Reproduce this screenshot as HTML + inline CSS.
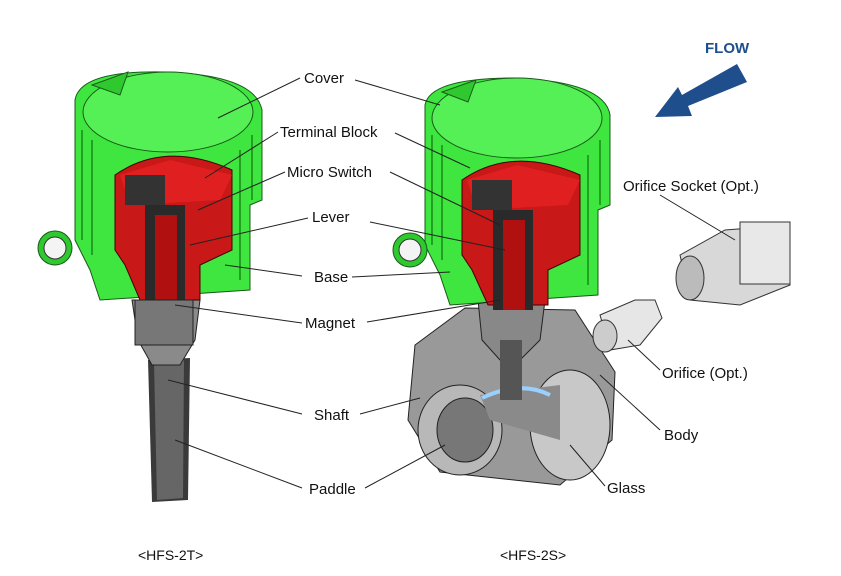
<!DOCTYPE html>
<html><head><meta charset="utf-8"><style>
html,body{margin:0;padding:0;background:#fff;}
svg{display:block;font-family:"Liberation Sans","Noto Sans CJK KR",sans-serif;}
text{font-size:15px;fill:#111;}
</style></head><body>
<svg width="841" height="576" viewBox="0 0 841 576" xmlns="http://www.w3.org/2000/svg">
<!-- LEFT DEVICE -->
<g>
  <path d="M148 360 L190 358 L188 500 L152 502 Z" fill="#3a3a3a"/>
  <path d="M154 362 L184 360 L183 498 L157 500 Z" fill="#666"/>
  <path d="M132 300 L200 300 L195 340 L180 365 L152 365 L138 340 Z" fill="#8a8a8a" stroke="#222"/>
  <path d="M75 100 Q80 70 165 72 Q255 75 262 110 L262 200 L250 205 L250 290 L100 300 L90 270 L75 240 Z" fill="#3fe63f" stroke="#1a5a1a"/>
  <g stroke="#22a022" stroke-width="2">
    <path d="M82 130 L82 240"/><path d="M92 140 L92 255"/><path d="M240 150 L240 280"/><path d="M252 135 L252 200"/>
  </g>
  <ellipse cx="168" cy="112" rx="85" ry="40" fill="#55f055" stroke="#1a5a1a"/>
  <path d="M92 85 L128 72 L120 95 Z" fill="#2fc82f" stroke="#1a5a1a"/>
  <path d="M115 175 Q165 140 232 170 L232 250 L200 265 L200 300 L140 300 L125 265 L115 250 Z" fill="#c81818" stroke="#400"/>
  <path d="M120 175 L170 160 L232 175 L220 200 L130 205 Z" fill="#e02020"/>
  <rect x="125" y="175" width="40" height="30" fill="#333"/>
  <rect x="145" y="205" width="40" height="110" fill="#2a2a2a"/>
  <rect x="155" y="215" width="22" height="100" fill="#b01010"/>
  <rect x="135" y="300" width="58" height="45" fill="#777" stroke="#222"/>
  <circle cx="55" cy="248" r="17" fill="#2fc82f" stroke="#1a5a1a"/>
  <circle cx="55" cy="248" r="11" fill="#f4f4f4" stroke="#333"/>
</g>
<!-- RIGHT DEVICE -->
<g>
  <path d="M415 345 L465 308 L575 310 L615 372 L612 440 L560 485 L440 472 L408 420 Z" fill="#999" stroke="#222"/>
  <ellipse cx="460" cy="430" rx="42" ry="45" fill="#b8b8b8" stroke="#222"/>
  <ellipse cx="465" cy="430" rx="28" ry="32" fill="#777" stroke="#222"/>
  <ellipse cx="570" cy="425" rx="40" ry="55" fill="#c8c8c8" stroke="#222"/>
  <path d="M480 395 L560 385 L560 440 L490 420 Z" fill="#8a8a8a"/>
  <path d="M482 398 Q520 380 550 395" stroke="#9ad0ff" stroke-width="4" fill="none"/>
  <path d="M478 300 L545 300 L540 340 L520 360 L500 360 L482 340 Z" fill="#888" stroke="#222"/>
  <rect x="500" y="340" width="22" height="60" fill="#555"/>
  <path d="M425 105 Q430 78 515 78 Q605 82 610 115 L610 205 L598 210 L598 295 L450 305 L440 275 L425 245 Z" fill="#3fe63f" stroke="#1a5a1a"/>
  <g stroke="#22a022" stroke-width="2">
    <path d="M432 135 L432 245"/><path d="M442 145 L442 260"/><path d="M588 155 L588 285"/><path d="M600 140 L600 205"/>
  </g>
  <ellipse cx="517" cy="118" rx="85" ry="40" fill="#55f055" stroke="#1a5a1a"/>
  <path d="M442 92 L476 80 L468 102 Z" fill="#2fc82f" stroke="#1a5a1a"/>
  <path d="M462 180 Q512 145 580 175 L580 255 L548 270 L548 305 L488 305 L472 270 L462 255 Z" fill="#c81818" stroke="#400"/>
  <path d="M467 180 L517 165 L580 180 L568 205 L477 210 Z" fill="#e02020"/>
  <rect x="472" y="180" width="40" height="30" fill="#333"/>
  <rect x="493" y="210" width="40" height="100" fill="#2a2a2a"/>
  <rect x="503" y="220" width="22" height="90" fill="#b01010"/>
  <circle cx="410" cy="250" r="17" fill="#2fc82f" stroke="#1a5a1a"/>
  <circle cx="410" cy="250" r="11" fill="#f4f4f4" stroke="#333"/>
</g>
<path d="M600 315 L635 300 L655 300 L662 318 L640 345 L610 350 Z" fill="#e6e6e6" stroke="#333"/>
<ellipse cx="605" cy="336" rx="12" ry="16" fill="#ccc" stroke="#333"/>
<path d="M680 255 L725 230 L790 225 L790 285 L740 305 L690 300 Z" fill="#d8d8d8" stroke="#333"/>
<ellipse cx="690" cy="278" rx="14" ry="22" fill="#bbb" stroke="#333"/>
<rect x="740" y="222" width="50" height="62" fill="#e8e8e8" stroke="#333"/>
<text x="705" y="53" style="font-weight:bold;font-size:15px;fill:#1f4e8c">FLOW</text>
<path d="M737 64 L747 82 L688 106 L692 116 L655 117 L678 87 L682 95 Z" fill="#1f4e8c"/>
<g stroke="#222" stroke-width="1" fill="none">
  <path d="M300 78 L218 118"/><path d="M355 80 L440 105"/>
  <path d="M278 132 L205 178"/><path d="M395 133 L470 168"/>
  <path d="M285 172 L198 210"/><path d="M390 172 L500 225"/>
  <path d="M308 218 L190 245"/><path d="M370 222 L505 250"/>
  <path d="M302 276 L225 265"/><path d="M352 277 L450 272"/>
  <path d="M302 323 L175 305"/><path d="M367 322 L500 300"/>
  <path d="M302 414 L168 380"/><path d="M360 414 L420 398"/>
  <path d="M302 488 L175 440"/><path d="M365 488 L445 445"/>
  <path d="M660 195 L735 240"/>
  <path d="M660 370 L628 340"/>
  <path d="M660 430 L600 375"/>
  <path d="M605 486 L570 445"/>
</g>
<text x="304" y="83">Cover</text>
<text x="280" y="137">Terminal Block</text>
<text x="287" y="177">Micro Switch</text>
<text x="312" y="222">Lever</text>
<text x="314" y="282">Base</text>
<text x="305" y="328">Magnet</text>
<text x="314" y="420">Shaft</text>
<text x="309" y="494">Paddle</text>
<text x="623" y="191">Orifice Socket (Opt.)</text>
<text x="662" y="378">Orifice (Opt.)</text>
<text x="664" y="440">Body</text>
<text x="607" y="493">Glass</text>
<text x="138" y="560" style="font-size:14px">&lt;HFS-2T&gt;</text>
<text x="500" y="560" style="font-size:14px">&lt;HFS-2S&gt;</text>
</svg>
</body></html>
